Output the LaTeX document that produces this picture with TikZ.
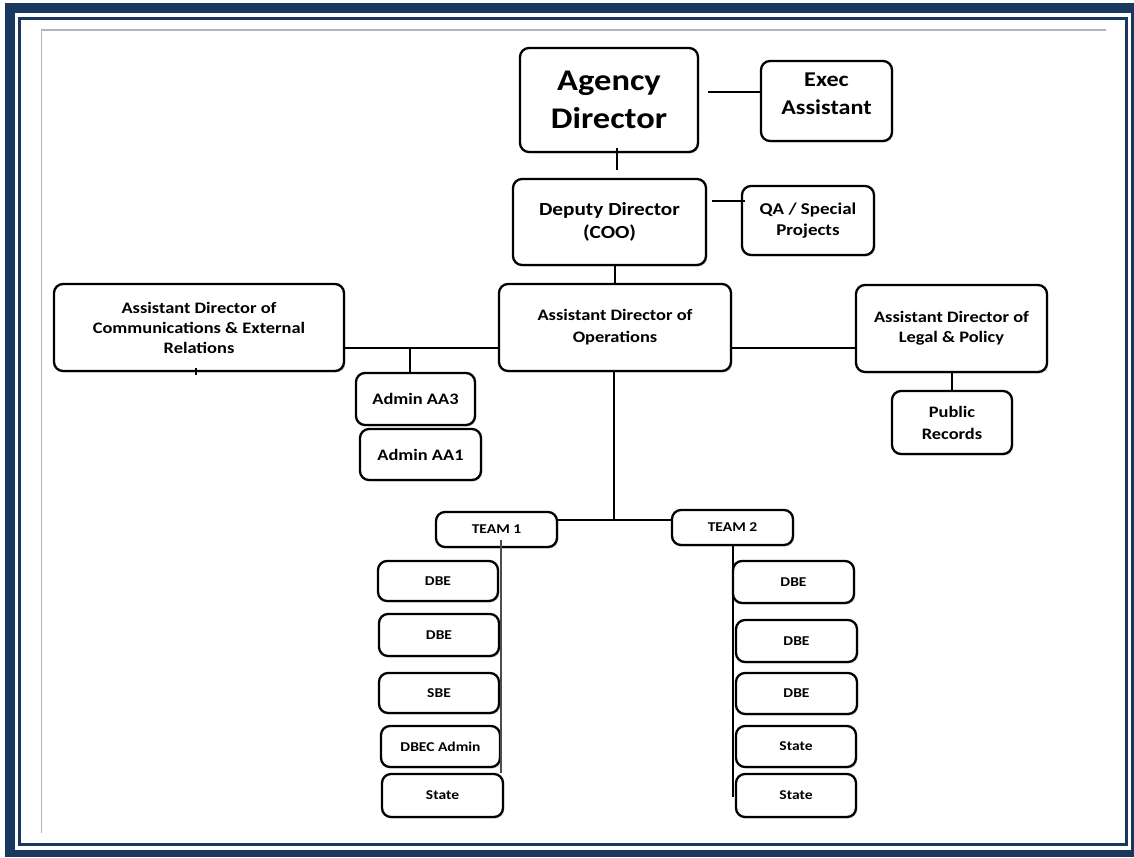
\documentclass[tikz,border=0pt]{standalone}
\usepackage{fontspec}
\setmainfont{Carlito}[FakeStretch=1.15]
\usetikzlibrary{calc,shadows}
\definecolor{navy}{RGB}{24,56,94}
\definecolor{pagegray}{RGB}{178,182,188}
\tikzset{
  box/.style={draw=black, line width=2.3pt, rounded corners=9pt, fill=white,
    align=center, inner sep=0pt, text=black,
    drop shadow={opacity=0.3, shadow xshift=1.3pt, shadow yshift=-1.5pt}},
  sz/.style 2 args={minimum width=#1pt, minimum height=#2pt},
  fbig/.style={font=\fontsize{30}{38}\selectfont\bfseries},
  fexec/.style={font=\fontsize{21}{28}\selectfont\bfseries},
  fdep/.style={font=\fontsize{18.5}{23}\selectfont\bfseries},
  fqa/.style={font=\fontsize{16.5}{21}\selectfont\bfseries},
  fmid/.style={font=\fontsize{16}{20}\selectfont\bfseries},
  fpr/.style={font=\fontsize{16}{22}\selectfont\bfseries},
  fsmall/.style={font=\fontsize{13.5}{16}\selectfont\bfseries},
  thickconn/.style={draw=black, line width=2.4pt},
  midconn/.style={draw=black, line width=1.8pt},
  thinconn/.style={draw=black, line width=1.3pt},
  colconn/.style={draw=black!70, line width=1.1pt},
}
\begin{document}
\begin{tikzpicture}[x=1pt,y=-1pt]
\useasboundingbox (0,0) rectangle (1134,857);
% frame
\fill[navy] (5,3) rectangle (1134,857);
\fill[white] (15,12.5) rectangle (1131,850);
\draw[navy, line width=3pt] (19.5,18) rectangle (1126.5,844.5);
\draw[pagegray, line width=1.7pt] (41.5,833) -- (41.5,30.2) -- (1106,30.2);

% nodes
\node[box, fbig, sz={178}{104}] (AD) at (609,100) {Agency\\Director};
\node[box, sz={131}{80}] (EA) at (826.5,101) {};
\node[fexec, align=center, inner sep=0pt] (EAtext) at ($(EA.center)+(0,-7)$) {Exec\\Assistant};
\node[box, fdep, sz={193}{86}] (DD) at (609.5,222) {Deputy Director\\(COO)};
\node[box, fqa, sz={132}{69}] (QA) at (808,220.5) {\rule{0pt}{4pt}QA / Special\\Projects};
\node[box, fmid, sz={290}{87}] (Comms) at (199,327.5) {Assistant Director of\\Communications \& External\\Relations};
\node[box, fpr, sz={232}{87}] (Ops) at (615,327.5) {Assistant Director of\\Operations};
\node[box, fmid, sz={191}{87}] (Legal) at (951.5,328.5) {\rule{0pt}{4pt}Assistant Director of\\Legal \& Policy};
\node[box, fmid, sz={119}{52}] (AA3) at (415.5,399) {Admin AA3};
\node[box, fmid, sz={121}{51}] (AA1) at (420.5,454.5) {Admin AA1};
\node[box, fpr, sz={120}{63}] (PR) at (952,422.5) {Public\\Records};
\node[box, fsmall, sz={121}{35}] (T1) at (496.5,529.5) {TEAM 1};
\node[box, fsmall, sz={121}{35}] (T2) at (732.5,527.5) {TEAM 2};
\node[box, fsmall, sz={120}{40}] (L1) at (438,581) {DBE};
\node[box, fsmall, sz={120}{42}] (L2) at (439,635) {DBE};
\node[box, fsmall, sz={120}{40}] (L3) at (439,693) {SBE};
\node[box, fsmall, sz={119}{41}] (L4) at (440.5,746.5) {DBEC Admin};
\node[box, fsmall, sz={121}{43}] (L5) at (442.5,795.5) {State};
\node[box, fsmall, sz={121}{42}] (R1) at (793.5,582) {DBE};
\node[box, fsmall, sz={121}{42}] (R2) at (796.5,641) {DBE};
\node[box, fsmall, sz={121}{41}] (R3) at (796.5,693.5) {DBE};
\node[box, fsmall, sz={120}{41}] (R4) at (796,746.5) {State};
\node[box, fsmall, sz={120}{43}] (R5) at (796,795.5) {State};

% connectors
\draw[thickconn] ($(AD.east)+(9,-8)$) -- ($(EA.west)+(0,-9)$);
\draw[midconn] ($(AD.south)+(8,-5)$) -- ($(DD.north)+(7.5,-8)$);
\draw[thinconn] ($(DD.east)+(5,-21)$) -- ($(QA.west)+(4,-19.5)$);
\draw[thickconn] (Ops.north) -- (Ops.north |- DD.south);
\coordinate (j1) at (410,348);
\draw[thickconn] (Comms.east |- j1) -- (Ops.west |- j1);
\draw[thickconn] (j1) -- (j1 |- AA3.north);
\draw[thickconn] (Ops.east |- j1) -- (Legal.west |- j1);
\coordinate (stub) at ($(Comms.south)+(-3,3)$);
\draw[thinconn] ($(Comms.south)+(-3,-4)$) -- (stub);
\draw[midconn] (PR.north) -- (PR.north |- Legal.south);
\coordinate (j2) at (614,520);
\draw[thickconn] (Ops.south -| j2) -- (j2);
\draw[thickconn] (T1.east |- j2) -- (T2.west |- j2);
\coordinate (e1) at (501,773);
\draw[colconn] ($(T1.south)+(4.5,-8)$) -- (e1);
\coordinate (e2) at (733,797);
\draw[thinconn] (T2.south -| e2) -- (e2);
\end{tikzpicture}
\end{document}
